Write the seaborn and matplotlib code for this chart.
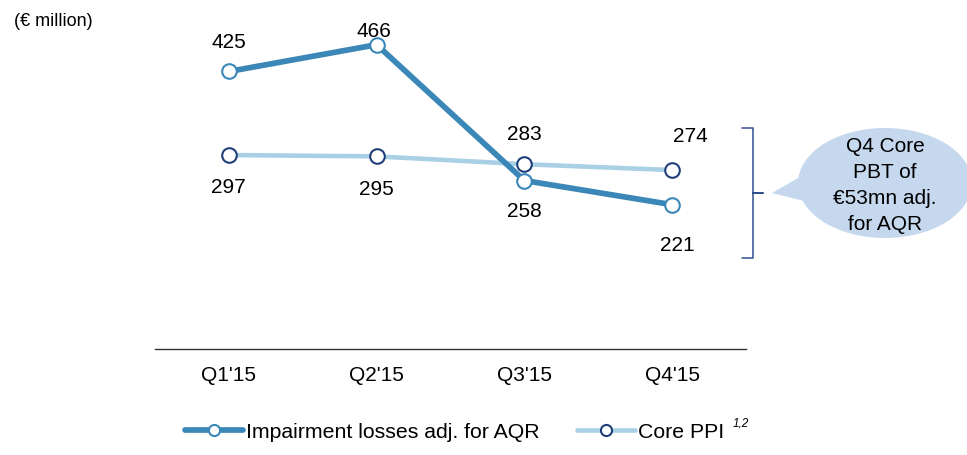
import numpy as np
import pandas as pd
import matplotlib.pyplot as plt
import seaborn as sns
from matplotlib.lines import Line2D
from matplotlib.patches import Ellipse, Polygon

quarters = ["Q1'15", "Q2'15", "Q3'15", "Q4'15"]
impairment = [425, 466, 258, 221]
core_ppi = [297, 295, 283, 274]

sns.set_style('white')
plt.rcParams['font.family'] = ['Liberation Sans', 'DejaVu Sans']
plt.rcParams['text.color'] = 'black'
plt.rcParams['xtick.color'] = 'black'

c_imp = '#3a87b8'
c_ppi = '#a9d0e5'
c_navy = '#1f3f7a'
fs = 15

df = pd.DataFrame({'quarter': quarters * 2,
                   'value': impairment + core_ppi,
                   'series': ['imp'] * 4 + ['ppi'] * 4})
df['x'] = list(range(4)) * 2

fig = plt.figure(figsize=(9.67, 4.55), dpi=100)
ax = fig.add_axes([155 / 967, 1 - 349 / 455, 591 / 967, 326.5 / 455])

sns.lineplot(data=df[df.series == 'ppi'], x='x', y='value', ax=ax, color=c_ppi,
             linewidth=3.3, marker='o', markersize=10.5, markerfacecolor='white',
             markeredgecolor=c_navy, markeredgewidth=1.5, zorder=2)
sns.lineplot(data=df[df.series == 'imp'], x='x', y='value', ax=ax, color=c_imp,
             linewidth=4.1, marker='o', markersize=10.5, markerfacecolor='white',
             markeredgecolor=c_imp, markeredgewidth=1.5, zorder=3)

ax.set_xlim(-0.5, 3.5)
ax.set_ylim(0, 500)
ax.set_xticks(range(4))
ax.set_xticklabels(quarters, fontsize=fs)
ax.tick_params(axis='x', length=0, pad=12)
ax.set_yticks([])
ax.set_xlabel('')
ax.set_ylabel('')
for s in ['top', 'left', 'right']:
    ax.spines[s].set_visible(False)
ax.spines['bottom'].set_color('#333333')
ax.spines['bottom'].set_linewidth(1)

# value labels (offsets in pixels)
imp_off = [(0, 29), (-3, 13), (0, -31), (5, -41)]
ppi_off = [(0, -32), (0, -33), (0, 30), (18, 34)]
for i in range(4):
    ax.annotate(str(impairment[i]), (i, impairment[i]), xytext=imp_off[i],
                textcoords='offset pixels', ha='center', va='center', fontsize=fs)
    ax.annotate(str(core_ppi[i]), (i, core_ppi[i]), xytext=ppi_off[i],
                textcoords='offset pixels', ha='center', va='center', fontsize=fs)

# bracket and callout bubble in figure pixel coords
ov = fig.add_axes([0, 0, 1, 1], facecolor='none')
ov.set_xlim(0, 967)
ov.set_ylim(455, 0)
ov.axis('off')
ov.plot([742, 753, 753, 763, 753, 753, 742],
        [128, 128, 193, 193, 193, 258, 258], color='#2f4f8a', lw=1.1)
ov.add_patch(Ellipse((885, 183), 174, 110, facecolor='#c5d8ee', edgecolor='none'))
ov.add_patch(Polygon([[772, 193], [812, 170], [812, 203]], closed=True,
                     facecolor='#c5d8ee', edgecolor='none'))
for j, t in enumerate(['Q4 Core', 'PBT of', '€53mn adj.', 'for AQR']):
    ov.text(885, 147 + j * 26, t, ha='center', va='center', fontsize=fs)

fig.text(14 / 967, 1 - 21 / 455, '(€ million)', fontsize=13, va='center')

handles = [
    Line2D([], [], color=c_imp, lw=4.1, marker='o', markersize=8,
           markerfacecolor='white', markeredgecolor=c_imp, markeredgewidth=1.5),
    Line2D([], [], color=c_ppi, lw=3.3, marker='o', markersize=8,
           markerfacecolor='white', markeredgecolor=c_navy, markeredgewidth=1.5),
]
fig.legend(handles, ['Impairment losses adj. for AQR', 'Core PPI'], loc='center left',
           bbox_to_anchor=(185 / 967, 1 - 432 / 455), ncol=2, frameon=False,
           fontsize=15.3, handlelength=2.75, handletextpad=0.12, columnspacing=1.75,
           borderpad=0, borderaxespad=0)
fig.text(733 / 967, 1 - 424 / 455, '1,2', fontsize=8.5, style='italic', va='center')

fig.savefig('out.png', dpi=100)
